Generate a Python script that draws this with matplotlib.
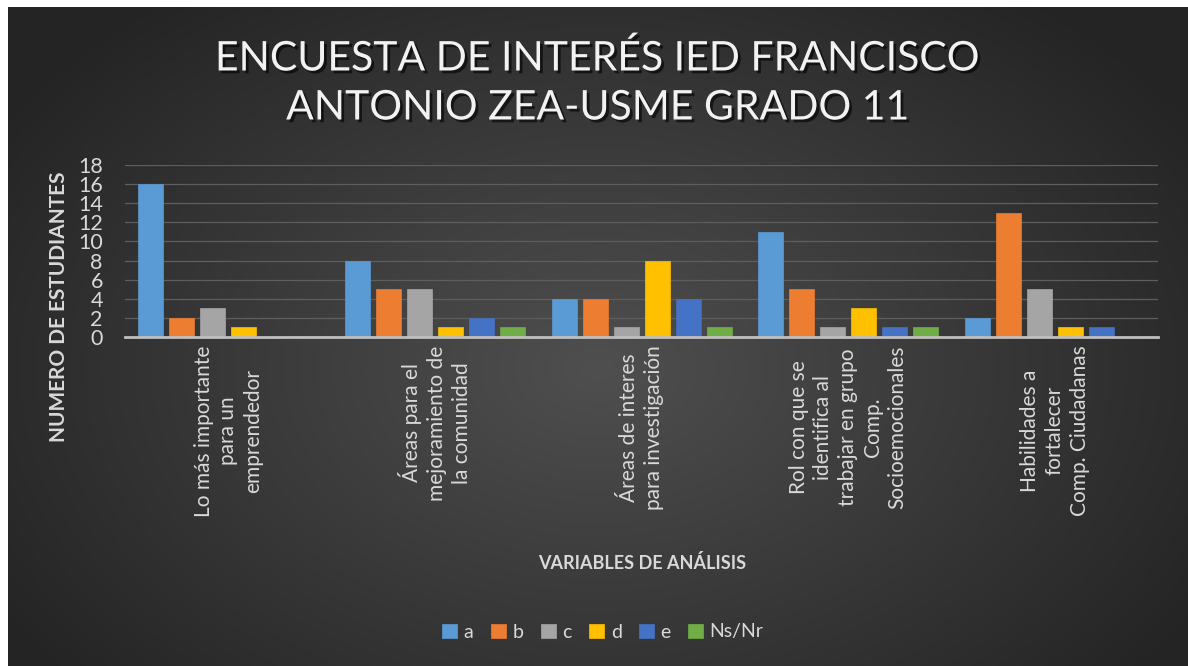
import numpy as np
import matplotlib
matplotlib.use("Agg")
import matplotlib.pyplot as plt
import matplotlib.patheffects as pe

categories = [
    "Lo más importante\npara un\nemprendedor",
    "Áreas para el\nmejoramiento de\nla comunidad",
    "Áreas de interes\npara investigación",
    "Rol con que se\nidentifica al\ntrabajar en grupo\nComp.\nSocioemocionales",
    "Habilidades a\nfortalecer\nComp. Ciudadanas",
]
series_names = ["a", "b", "c", "d", "e", "Ns/Nr"]
a = [16, 8, 4, 11, 2]
b = [2, 5, 4, 5, 13]
c = [3, 5, 1, 1, 5]
d = [1, 1, 8, 3, 1]
e = [0, 2, 4, 1, 1]
nsnr = [0, 1, 1, 1, 0]
series_values = [a, b, c, d, e, nsnr]
colors = ["#5B9BD5", "#ED7D31", "#A5A5A5", "#FFC000", "#4472C4", "#70AD47"]
yticks = list(range(0, 19, 2))

plt.rcParams['font.family'] = ['Lato', 'DejaVu Sans']

W, H = 1188, 666
fig = plt.figure(figsize=(W / 100, H / 100), dpi=100, facecolor="white")

# background gradient
bg = fig.add_axes([8 / W, 0, 1 - 8 / W, 1 - 7 / H])
bg.set_axis_off()
yy, xx = np.mgrid[0:1:300j, 0:1:600j]
r = np.sqrt(((xx - 0.5) / 0.75) ** 2 + ((yy - 0.55) / 0.9) ** 2)
val = np.clip(0.31 - 0.21 * r, 0.145, 0.31)
img = np.dstack([val, val, val])
bg.imshow(img, aspect="auto", extent=[0, 1, 0, 1], interpolation="bicubic")
bg.set_xlim(0, 1)
bg.set_ylim(0, 1)

ax = fig.add_axes([125 / W, 1 - 337 / H, (1158 - 125) / W, (337 - 165) / H])
ax.patch.set_alpha(0)
x = np.arange(len(categories))
slot = 31 / 206.6
bw = 25 / 206.6
for i, (name, vals, col) in enumerate(zip(series_names, series_values, colors)):
    ax.bar(x + (i - 2.5) * slot, vals, width=bw, color=col, label=name, zorder=3,
           edgecolor=col, linewidth=0.5)

ax.set_xlim(-0.5, len(categories) - 0.5)
ax.set_ylim(0, 18)
ax.set_yticks(yticks)
ax.yaxis.grid(True, color="#5e5e5e", linewidth=0.9, zorder=0)
ax.set_axisbelow(True)
for s in ["top", "right", "left"]:
    ax.spines[s].set_visible(False)
ax.spines["bottom"].set_color("#bfbfbf")
ax.spines["bottom"].set_linewidth(2)
ax.spines["bottom"].set_zorder(4)
ax.tick_params(axis="y", length=0, pad=16, labelsize=15.5, labelcolor="#d9d9d9")
ax.tick_params(axis="x", length=0, pad=6)
ax.set_xticks(x)
ax.set_xticklabels(categories, rotation=90, fontsize=15, color="#d9d9d9",
                   ha="center", va="top", multialignment="center",
                   linespacing=1.3)

ax.set_ylabel("NUMERO DE ESTUDIANTES", fontsize=15, fontweight="bold",
              color="#d9d9d9")
ax.yaxis.set_label_coords(-56 / (1158 - 125), 30 / 172)

fig.text(642 / W, 1 - 563 / H, "VARIABLES DE ANÁLISIS", fontsize=13,
         fontweight="bold", color="#d9d9d9", ha="center", va="center")

shadow = [pe.withSimplePatchShadow(offset=(2, -2), shadow_rgbFace="black", alpha=0.6)]
fig.text(598 / W, 1 - 83 / H, "ENCUESTA DE INTERÉS IED FRANCISCO\nANTONIO ZEA-USME GRADO 11",
         fontsize=29.5, color="#f2f2f2", ha="center", va="center",
         linespacing=1.4, path_effects=shadow)

leg = fig.legend(loc="center", bbox_to_anchor=(603 / W, 1 - 632 / H), ncol=6,
                 frameon=False, fontsize=14, handlelength=0.75, handleheight=0.75,
                 handletextpad=0.35, columnspacing=0.9)
for t in leg.get_texts():
    t.set_color("#d9d9d9")

fig.savefig("out.png", dpi=100, facecolor="white")
